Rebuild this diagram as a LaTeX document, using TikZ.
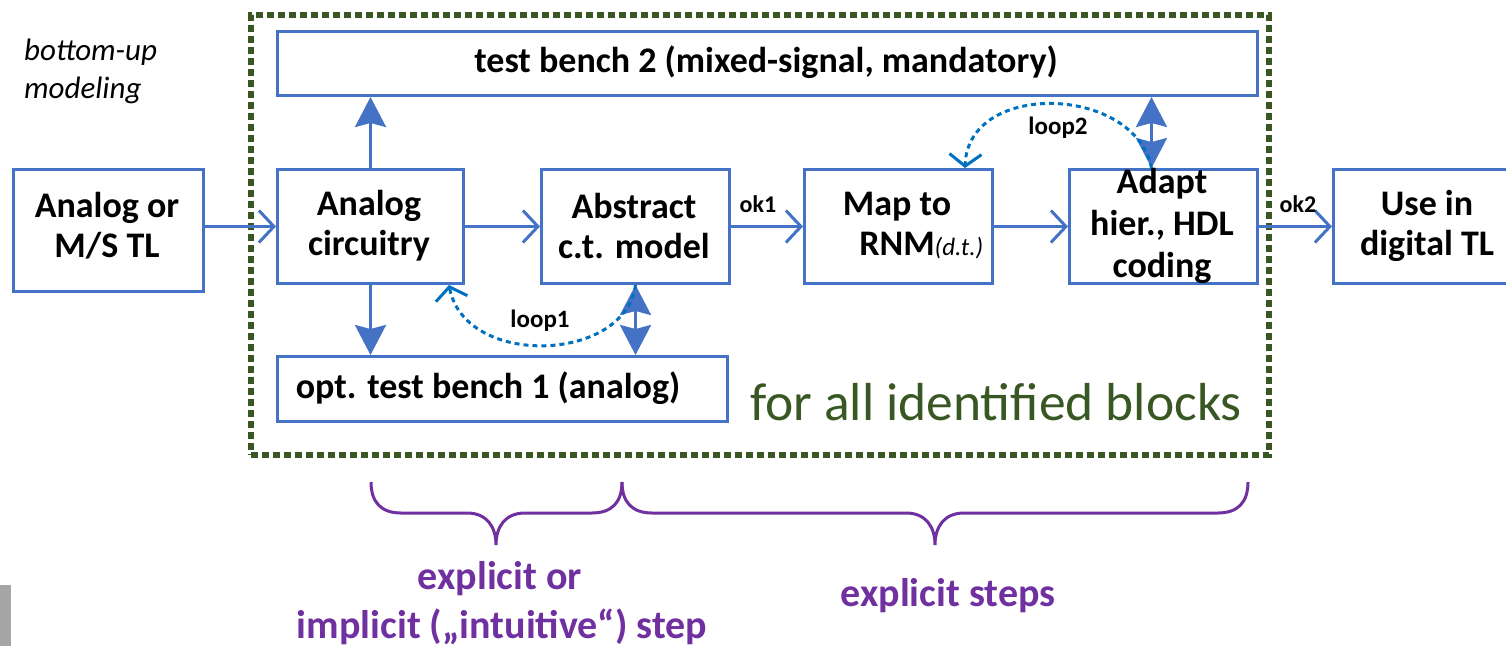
\documentclass[tikz,border=0pt]{standalone}
\usepackage{fontspec}
\setmainfont{Carlito}
\usetikzlibrary{arrows.meta}
\definecolor{boxblue}{HTML}{4472C4}
\definecolor{loopblue}{HTML}{0070C0}
\definecolor{dgreen}{HTML}{385723}
\definecolor{purp}{HTML}{7030A0}
\begin{document}
\begin{tikzpicture}[x=1pt,y=-1pt,
  blk/.style={draw=boxblue, line width=3pt, inner sep=0pt, anchor=north west, fill=white},
  btxt/.style={font=\bfseries\fontsize{36}{40}\selectfont, align=center, inner sep=0pt},
  small/.style={font=\bfseries\fontsize{24}{26}\selectfont, inner sep=0pt},
  conn/.style={draw=boxblue, line width=3pt, -{Straight Barb[length=15pt,width=32pt]}},
  fat/.style={draw=boxblue, line width=3pt, -{Stealth[length=30pt,width=31pt,inset=4pt]}},
  fatboth/.style={draw=boxblue, line width=3pt, {Stealth[length=30pt,width=31pt,inset=4pt]}-{Stealth[length=30pt,width=31pt,inset=4pt]}},
  loopc/.style={draw=loopblue, line width=3pt, dash pattern=on 5pt off 4pt, -{Straight Barb[length=12pt,width=32pt]}},
  frame/.style={draw=dgreen, line width=6pt, dash pattern=on 7pt off 4pt, inner sep=0pt, anchor=north west},
  brace/.style={draw=purp, line width=3pt},
  ptxt/.style={text=purp, font=\bfseries\fontsize{40}{44}\selectfont, inner sep=0pt}
]
\useasboundingbox (0,0) rectangle (1506,646);
\clip (0,0) rectangle (1506,646);

% gray bar
\fill[gray!70] (0,585) rectangle (11,646);

% dashed frame
\node[frame, minimum width=1018pt, minimum height=440pt] (frame) at (248,12) {};

% boxes
\node[blk, minimum width=980pt, minimum height=64pt] (tb2) at (276,30) {};
\node[blk, minimum width=190pt, minimum height=122pt] (amsl) at (12,168) {};
\node[blk, minimum width=186pt, minimum height=114pt] (ac) at (276,168) {};
\node[blk, minimum width=188pt, minimum height=114pt] (abs) at (540,168) {};
\node[blk, minimum width=188pt, minimum height=114pt] (map) at (803,168) {};
\node[blk, minimum width=188pt, minimum height=114pt] (adapt) at (1068,168) {};
\node[blk, minimum width=190pt, minimum height=114pt] (use) at (1332,168) {};
\node[blk, minimum width=450pt, minimum height=65pt] (tb1) at (276,355) {};

% box texts
\node[btxt] (tb2T) at (766,62) {test bench 2 (mixed-signal, mandatory)};
\node[btxt] (amslT) at (107,226) {Analog or\\M/S TL};
\node[btxt] (acT) at (369,226) {Analog\\circuitry};
\node[btxt] (absT) at (634,226) {Abstract\\c.t. model};
\node[btxt] (mapT) at (897,226) {Map to\\RNM\rlap{\normalfont\itshape\fontsize{25}{28}\selectfont(d.t.)}};
\node[btxt, font=\bfseries\fontsize{36}{42}\selectfont] (adaptT) at (1162,226) {Adapt\\hier., HDL\\coding};
\node[btxt] (useT) at (1427,226) {Use in\\digital TL};
\node[btxt] (tb1T) at (488,388) {opt. test bench 1 (analog)};

% horizontal connectors
\draw[conn] (amsl.east |- ac.west) -- (ac.west);
\draw[conn] (ac.east) -- (abs.west);
\draw[conn] (abs.east) -- (map.west);
\draw[conn] (map.east) -- (adapt.west);
\draw[conn] (adapt.east) -- (use.west);
\node[small] (ok1) at (758,204) {ok1};
\node[small] (ok2) at (1298,204) {ok2};

% vertical arrows
\draw[fat] (ac.north) -- (ac.north |- tb2.south);
\draw[fat] (ac.south) -- (ac.south |- tb1.north);
\draw[fatboth] (abs.south) -- (abs.south |- tb1.north);
\coordinate (adtop) at ([xshift=-12pt]adapt.north);
\draw[fatboth] (adtop) -- (adtop |- tb2.south);

% loops
\coordinate (l1end) at ([xshift=-16pt]ac.south east);
\draw[loopc] (abs.south) .. controls (625,363) and (465,368) .. (l1end);
\node[small, font=\bfseries\fontsize{25}{28}\selectfont] (loop1) at (540,321) {loop1};
\coordinate (l2end) at ([xshift=-29pt]map.north east);
\draw[loopc] (adtop) .. controls (1135,85) and (968,80) .. (l2end);
\node[small, font=\bfseries\fontsize{25}{28}\selectfont] (loop2) at (1058,128) {loop2};

% side texts
\node[inner sep=0pt, anchor=west, align=left, font=\itshape\fontsize{31}{38}\selectfont] (bu) at (24,71) {bottom-up\\modeling};
\node[inner sep=0pt, text=dgreen, font=\fontsize{53.5}{60}\selectfont] (forall) at (996,402) {for all identified blocks};

% braces
\draw[brace] (371,482) .. controls (371,502) and (381,513) .. (401,513) -- (467,513)
  .. controls (487,513) and (496,527) .. (496,545) .. controls (496,527) and (505,513) .. (525,513)
  -- (592,513) .. controls (612,513) and (622,502) .. (622,482);
\draw[brace] (622,482) .. controls (622,502) and (632,513) .. (652,513) -- (906,513)
  .. controls (926,513) and (935,527) .. (935,545) .. controls (935,527) and (944,513) .. (964,513)
  -- (1218,513) .. controls (1238,513) and (1248,502) .. (1248,482);

\node[ptxt] (p1) at (500,579) {explicit or};
\node[ptxt] (p2) at (502,627) {implicit („intuitive“) step};
\node[ptxt] (p3) at (948,596) {explicit steps};
\end{tikzpicture}
\end{document}
